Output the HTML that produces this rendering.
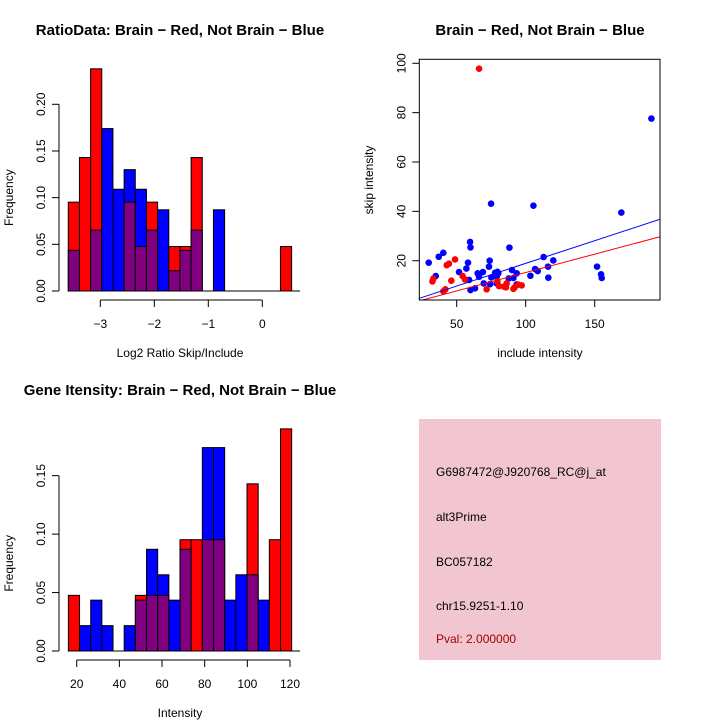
<!DOCTYPE html>
<html><head><meta charset="utf-8"><style>
html,body{margin:0;padding:0;background:#fff;}
svg{display:block;font-family:"Liberation Sans",Arial,sans-serif;}
</style></head><body>
<svg id="chart" width="720" height="720" viewBox="0 0 720 720">
<rect width="720" height="720" fill="#fff"/>
<g id="p1"></g>
<g id="p2"></g>
<g id="p3"></g>
<g id="p4">
<rect x="419" y="419" width="242" height="241" fill="#f2c6d0"/>
<text x="436" y="476" font-size="12">G6987472@J920768_RC@j_at</text>
<text x="436" y="521" font-size="12">alt3Prime</text>
<text x="436" y="566" font-size="12">BC057182</text>
<text x="436" y="610" font-size="12">chr15.9251-1.10</text>
<text x="436" y="643" font-size="12" fill="#a00000">Pval: 2.000000</text>
</g>
</svg>
<script>
// ---- Data ----
const ratioBinStart = -3.593;
const ratioBinWidth = 0.2068;
const ratioRed  = [0.0952,0.143,0.238,0,0,0.0952,0.0476,0.0952,0,0.0476,0.0476,0.143,0,0,0,0,0,0,0,0.0476];
const ratioBlue = [0.0435,0,0.0652,0.174,0.109,0.130,0.109,0.0652,0.087,0.0217,0.0435,0.0652,0,0.087,0,0,0,0,0,0];
const ratioXTicks = [-3,-2,-1,0];
const ratioYTicks = [0,0.05,0.10,0.15,0.20];

const intBinStart = 16.1;
const intBinWidth = 5.234;
const intRed  = [0.0476,0,0,0,0,0,0.0476,0.0476,0.0476,0,0.0952,0.0952,0.0952,0.0952,0,0,0.143,0,0.0952,0.190];
const intBlue = [0,0.0217,0.0435,0.0217,0,0.0217,0.0435,0.087,0.0652,0.0435,0.087,0,0.174,0.174,0.0435,0.0652,0.0652,0.0435,0,0];
const intXTicks = [20,40,60,80,100,120];
const intYTicks = [0,0.05,0.10,0.15];

const blueX = [29.7,34.8,37,40.3,51.7,57,58.2,59,60,59.7,60,63.3,65.2,66.2,69,69.6,73.9,73.4,74.9,75.1,74.2,77.8,79.5,79,80.2,79,88.2,87.7,90.1,91.1,93.5,93.5,103.4,105.6,106.8,108.7,113,116.2,116.4,120,151.7,154.6,155.1,169.3,191.1];
const blueY = [19.2,13.8,21.6,23.2,15.4,16.8,19.2,12.2,8.1,27.6,25.4,8.8,14.9,13.5,15.4,10.8,20,17.6,43.1,13.2,10.5,15.1,15.5,13.5,14.9,10.8,25.3,12.8,16.2,13,14.9,10.4,13.9,42.3,16.6,15.8,21.5,17.6,13.1,20.1,17.6,14.5,13,39.5,77.6];
const redX = [66.2,32.4,33.1,40.3,41.8,42.8,44.4,46.1,48.8,54.3,56,71.7,79.5,80.7,84.3,85.7,86.2,91.1,92,94.7,97.1];
const redY = [97.8,11.6,12.7,7.6,8.4,18.2,18.8,11.9,20.5,13.8,12.4,8.4,11.5,9.7,9.5,9.2,10.8,8.6,9.2,10.3,10];
const blueFit = [0.55,0.1837]; // intercept, slope
const redFit = [0.3,0.149];
const scXTicks = [50,100,150];
const scYTicks = [20,40,60,80,100];

const NS="http://www.w3.org/2000/svg";
function mk(parent,tag,attrs,text){const e=document.createElementNS(NS,tag);for(const k in attrs)e.setAttribute(k,attrs[k]);if(text!==undefined)e.textContent=text;parent.appendChild(e);return e;}

function histogram(g,cfg){
  const {start,width,red,blue,xs,ys,xticks,yticks,axisY,axisX,title,titleY,xlab,xlabY}=cfg;
  const t=mk(g,'text',{x:180,y:titleY,'font-size':15,'font-weight':'bold','text-anchor':'middle'},title);
  
  
  for(let i=0;i<red.length;i++){
    const x0=xs(start+i*width), x1=xs(start+(i+1)*width);
    const r=red[i], b=blue[i], lo=Math.min(r,b), hi=Math.max(r,b);
    if(hi>0){
      const top=mk(g,'rect',{x:x0,y:ys(hi),width:x1-x0,height:ys(0)-ys(hi),fill:r>=b?'#ff0000':'#0000ff',stroke:'#000','stroke-width':1});
      
      
    }
    if(lo>0){
      const ov=mk(g,'rect',{x:x0,y:ys(lo),width:x1-x0,height:ys(0)-ys(lo),fill:'#800080',stroke:'#000','stroke-width':1});
      
      
    }
  }
  mk(g,'line',{x1:xs(start),x2:300,y1:ys(0),y2:ys(0),stroke:'#000'});
  mk(g,'line',{x1:axisX,x2:axisX,y1:ys(yticks[0]),y2:ys(yticks[yticks.length-1]),stroke:'#000'});
  yticks.forEach(v=>{
    mk(g,'line',{x1:axisX-7,x2:axisX,y1:ys(v),y2:ys(v),stroke:'#000'});
    const l=mk(g,'text',{x:0,y:0,'font-size':12,'text-anchor':'middle',transform:`translate(${axisX-14},${ys(v)}) rotate(-90)`},v.toFixed(2));
    
    
  });
  mk(g,'line',{x1:xs(xticks[0]),x2:xs(xticks[xticks.length-1]),y1:axisY,y2:axisY,stroke:'#000'});
  xticks.forEach(v=>{
    mk(g,'line',{x1:xs(v),x2:xs(v),y1:axisY,y2:axisY+7,stroke:'#000'});
    const l=mk(g,'text',{x:xs(v),y:axisY+28,'font-size':12,'text-anchor':'middle'},v<0?'\u2212'+(-v):String(v));
    
    
  });
  const xl=mk(g,'text',{x:180,y:xlabY,'font-size':12,'text-anchor':'middle'},xlab);
  
  
  const yl=mk(g,'text',{x:0,y:0,'font-size':12,'text-anchor':'middle',transform:`translate(13,${(ys(0)+ys(yticks[yticks.length-1]))/2}) rotate(-90)`},'Frequency');
  
  
}

histogram(document.getElementById('p1'),{
  start:ratioBinStart,width:ratioBinWidth,red:ratioRed,blue:ratioBlue,
  xs:v=>262.3+v*54, ys:v=>291-v*933.5,
  xticks:ratioXTicks,yticks:ratioYTicks,axisY:300,axisX:59,
  title:'RatioData: Brain \u2212 Red, Not Brain \u2212 Blue',titleY:35,
  xlab:'Log2 Ratio Skip/Include',xlabY:357
});
histogram(document.getElementById('p3'),{
  start:intBinStart,width:intBinWidth,red:intRed,blue:intBlue,
  xs:v=>76.7+(v-20)*2.133, ys:v=>651-v*1169,
  xticks:intXTicks,yticks:intYTicks,axisY:660,axisX:59,
  title:'Gene Itensity: Brain \u2212 Red, Not Brain \u2212 Blue',titleY:395,
  xlab:'Intensity',xlabY:717
});

(function(){
  const g=document.getElementById('p2');
  const xs=v=>456.7+(v-50)*1.38, ys=v=>260.7-(v-20)*2.4675;
  const L=419.3,R=660,T=59.3,B=300;
  const t=mk(g,'text',{x:540,y:35,'font-size':15,'font-weight':'bold','text-anchor':'middle'},'Brain \u2212 Red, Not Brain \u2212 Blue');
  
  
  const cp=mk(g,'clipPath',{id:'clipsc'});
  mk(cp,'rect',{x:L,y:T,width:R-L,height:B-T});
  const pts=mk(g,'g',{'clip-path':'url(#clipsc)'});
  blueX.forEach((x,i)=>{
    const c=mk(pts,'circle',{cx:xs(x),cy:ys(blueY[i]),r:3.3,fill:'#0000ff'});
    
    
  });
  redX.forEach((x,i)=>{
    const c=mk(pts,'circle',{cx:xs(x),cy:ys(redY[i]),r:3.3,fill:'#ff0000'});
    
    
  });
  const xa=22.9,xb=197.3;
  const bl=mk(pts,'line',{x1:xs(xa),y1:ys(blueFit[0]+blueFit[1]*xa),x2:xs(xb),y2:ys(blueFit[0]+blueFit[1]*xb),stroke:'#0000ff','stroke-width':1});
  
  
  const rl=mk(pts,'line',{x1:xs(xa),y1:ys(redFit[0]+redFit[1]*xa),x2:xs(xb),y2:ys(redFit[0]+redFit[1]*xb),stroke:'#ff0000','stroke-width':1});
  
  
  mk(g,'rect',{x:L,y:T,width:R-L,height:B-T,fill:'none',stroke:'#000','stroke-width':1});
  scXTicks.forEach(v=>{
    mk(g,'line',{x1:xs(v),x2:xs(v),y1:B,y2:B+7,stroke:'#000'});
    const l=mk(g,'text',{x:xs(v),y:B+28,'font-size':12,'text-anchor':'middle'},String(v));
    
    
  });
  scYTicks.forEach(v=>{
    mk(g,'line',{x1:L-7,x2:L,y1:ys(v),y2:ys(v),stroke:'#000'});
    const l=mk(g,'text',{x:0,y:0,'font-size':12,'text-anchor':'middle',transform:`translate(${L-14},${ys(v)}) rotate(-90)`},String(v));
    
    
  });
  const xl=mk(g,'text',{x:540,y:357,'font-size':12,'text-anchor':'middle'},'include intensity');
  
  
  const yl=mk(g,'text',{x:0,y:0,'font-size':12,'text-anchor':'middle',transform:'translate(373,180) rotate(-90)'},'skip intensity');
  
  
})();
</script>
</body></html>
